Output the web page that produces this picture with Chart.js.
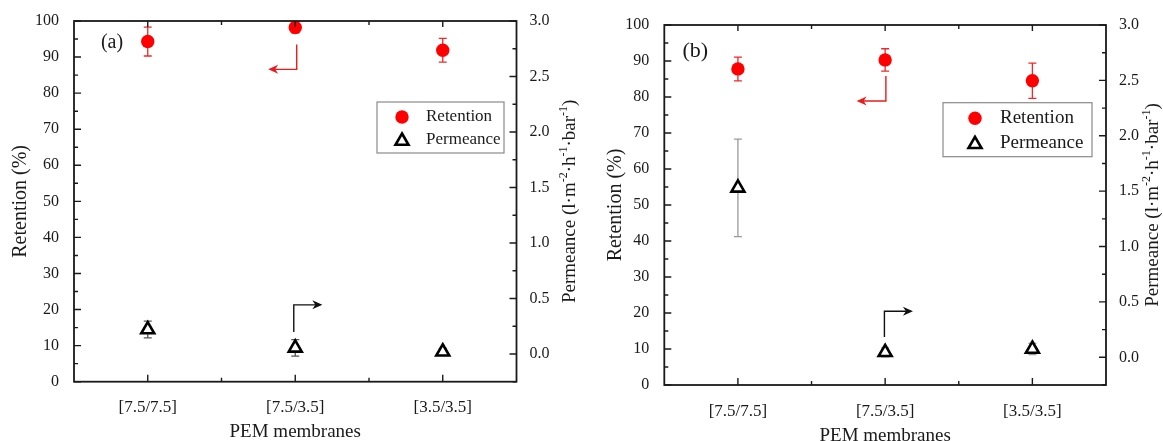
<!DOCTYPE html>
<html>
<head>
<meta charset="utf-8">
<script src="https://cdn.jsdelivr.net/npm/chart.js@4.4.0/dist/chart.umd.min.js"></script>
<style>
body { margin: 0; background: #fff; width: 1163px; height: 441px; overflow: hidden; position: relative; }
.panel { position: absolute; top: 0; height: 441px; }
#wrapA { left: 0; width: 580px; }
#wrapB { left: 580px; width: 583px; }
</style>
</head>
<body>
<div class="panel" id="wrapA"><canvas id="chartA"></canvas></div>
<div class="panel" id="wrapB"><canvas id="chartB"></canvas></div>
<script>
var categories = ['[7.5/7.5]', '[7.5/3.5]', '[3.5/3.5]'];
var retentionTicks = [0, 10, 20, 30, 40, 50, 60, 70, 80, 90, 100];
var permeanceTicks = [0, 0.5, 1.0, 1.5, 2.0, 2.5, 3.0];

// panel (a)
var retentionA = [94.3, 98.2, 91.9];
var retentionErrA = [4.0, 1.5, 3.3];
var permeanceA = [0.22, 0.055, 0.02];
var permeanceErrA = [0.075, 0.075, 0.03];

// panel (b)
var retentionB = [87.8, 90.3, 84.5];
var retentionErrB = [3.3, 3.1, 4.9];
var permeanceB = [1.53, 0.045, 0.075];
var permeanceErrB = [0.44, 0.04, 0.05];

var serif = "'Liberation Serif', 'Times New Roman', serif";
var inkColor = '#1a1a1a';

function arrowLine(ctx, pts, color) {
    ctx.save();
    ctx.strokeStyle = color;
    ctx.fillStyle = color;
    ctx.lineWidth = 1.4;
    ctx.beginPath();
    ctx.moveTo(pts[0][0], pts[0][1]);
    for (var i = 1; i < pts.length; i++) ctx.lineTo(pts[i][0], pts[i][1]);
    ctx.stroke();
    var a = pts[pts.length - 2], b = pts[pts.length - 1];
    var ang = Math.atan2(b[1] - a[1], b[0] - a[0]);
    ctx.translate(b[0], b[1]);
    ctx.rotate(ang);
    ctx.beginPath();
    ctx.moveTo(2, 0);
    ctx.lineTo(-8, -4.5);
    ctx.lineTo(-5, 0);
    ctx.lineTo(-8, 4.5);
    ctx.closePath();
    ctx.fill();
    ctx.restore();
}

function drawTriangle(ctx, x, y, r) {
    ctx.beginPath();
    ctx.moveTo(x, y - r);
    ctx.lineTo(x + r * Math.sin(Math.PI * 2 / 3), y - r * Math.cos(Math.PI * 2 / 3));
    ctx.lineTo(x + r * Math.sin(Math.PI * 4 / 3), y - r * Math.cos(Math.PI * 4 / 3));
    ctx.closePath();
}

var panelPlugin = {
    id: 'panelPlugin',
    beforeDatasetsDraw: function(chart) {
        var ctx = chart.ctx;
        chart.data.datasets.forEach(function(ds, di) {
            var meta = chart.getDatasetMeta(di);
            var sc = chart.scales[ds.yAxisID];
            ctx.save();
            ctx.strokeStyle = ds.errorColor;
            ctx.lineWidth = 1.3;
            meta.data.forEach(function(pt, i) {
                var v = ds.data[i], e = ds.errors[i];
                var y1 = sc.getPixelForValue(v + e), y2 = sc.getPixelForValue(v - e);
                ctx.beginPath();
                ctx.moveTo(pt.x, y1); ctx.lineTo(pt.x, y2);
                ctx.moveTo(pt.x - 4, y1); ctx.lineTo(pt.x + 4, y1);
                ctx.moveTo(pt.x - 4, y2); ctx.lineTo(pt.x + 4, y2);
                ctx.stroke();
            });
            ctx.restore();
        });
    },
    afterDraw: function(chart) {
        var ctx = chart.ctx, ca = chart.chartArea;
        var p = chart.options.plugins.panelPlugin;
        var xs = chart.scales.x, ys = chart.scales.y, ys1 = chart.scales.y1;
        ctx.save();
        // frame
        ctx.strokeStyle = inkColor;
        ctx.lineWidth = 1.8;
        ctx.strokeRect(ca.left, ca.top, ca.right - ca.left, ca.bottom - ca.top);
        // inward ticks
        ctx.lineWidth = 1.4;
        ctx.beginPath();
        retentionTicks.forEach(function(v, i) {
            var y = ys.getPixelForValue(v);
            ctx.moveTo(ca.left, y); ctx.lineTo(ca.left + 7, y);
            if (i > 0) {
                var ym = ys.getPixelForValue((v + retentionTicks[i - 1]) / 2);
                ctx.moveTo(ca.left, ym); ctx.lineTo(ca.left + 4, ym);
            }
        });
        permeanceTicks.forEach(function(v, i) {
            var y = ys1.getPixelForValue(v);
            ctx.moveTo(ca.right, y); ctx.lineTo(ca.right - 7, y);
            var prev = i > 0 ? permeanceTicks[i - 1] : v - 0.5;
            var ym = ys1.getPixelForValue((v + prev) / 2);
            ctx.moveTo(ca.right, ym); ctx.lineTo(ca.right - 4, ym);
        });
        categories.forEach(function(c, i) {
            var x = xs.getPixelForValue(i);
            ctx.moveTo(x, ca.bottom); ctx.lineTo(x, ca.bottom - 7);
            ctx.moveTo(x, ca.top); ctx.lineTo(x, ca.top + 6);
            if (i > 0) {
                var xm = xs.getPixelForValue(i - 0.5);
                ctx.moveTo(xm, ca.bottom); ctx.lineTo(xm, ca.bottom - 4);
                ctx.moveTo(xm, ca.top); ctx.lineTo(xm, ca.top + 4);
            }
        });
        ctx.stroke();

        // arrows
        p.arrows.forEach(function(ar) {
            var pts = ar.path.map(function(q) { return [xs.getPixelForValue(q[0]), ys.getPixelForValue(q[1])]; });
            arrowLine(ctx, pts, ar.color);
        });

        // panel label
        ctx.fillStyle = inkColor;
        ctx.font = p.labelSize + 'px ' + serif;
        ctx.textAlign = 'center';
        ctx.textBaseline = 'middle';
        ctx.fillText(p.label, ca.left + p.labelDx, ca.top + p.labelDy);

        // legend
        var lg = p.legend;
        var bx = ca.left + lg.left, by = ca.top + lg.top;
        ctx.strokeStyle = '#8a8a8a';
        ctx.lineWidth = 1.2;
        ctx.strokeRect(bx, by, lg.width, lg.height);
        var dsR = chart.data.datasets[0], dsP = chart.data.datasets[1];
        ctx.fillStyle = dsR.pointBackgroundColor;
        ctx.beginPath();
        ctx.arc(bx + lg.markerX, by + lg.row1, dsR.pointRadius, 0, Math.PI * 2);
        ctx.fill();
        drawTriangle(ctx, bx + lg.markerX, by + lg.row2 + 1, dsP.pointRadius);
        ctx.fillStyle = dsP.pointBackgroundColor;
        ctx.fill();
        ctx.strokeStyle = dsP.pointBorderColor;
        ctx.lineWidth = dsP.pointBorderWidth;
        ctx.stroke();
        ctx.fillStyle = inkColor;
        ctx.font = lg.font + 'px ' + serif;
        ctx.textAlign = 'left';
        ctx.fillText(dsR.label, bx + lg.textX, by + lg.row1);
        ctx.fillText(dsP.label, bx + lg.textX, by + lg.row2);

        // axis titles
        var midY = (ca.top + ca.bottom) / 2;
        ctx.font = '20px ' + serif;
        ctx.textAlign = 'center';
        ctx.save();
        ctx.translate(ca.left - p.leftTitleGap, midY);
        ctx.rotate(-Math.PI / 2);
        ctx.fillText('Retention (%)', 0, 0);
        ctx.restore();

        ctx.font = '19px ' + serif;
        ctx.fillText('PEM membranes', (ca.left + ca.right) / 2, ca.bottom + p.xTitleGap);

        // right title with superscripts, reading bottom to top
        var parts = [['Permeance (l\u00b7m', 0], ['-2', 1], ['\u00b7h', 0], ['-1', 1], ['\u00b7bar', 0], ['-1', 1], [')', 0]];
        var big = '19px ' + serif, small = '12px ' + serif;
        var total = 0;
        parts.forEach(function(q) { ctx.font = q[1] ? small : big; total += ctx.measureText(q[0]).width; });
        ctx.save();
        ctx.translate(ca.right + p.rightTitleGap, midY);
        ctx.rotate(-Math.PI / 2);
        ctx.textAlign = 'left';
        var cx = -total / 2;
        parts.forEach(function(q) {
            ctx.font = q[1] ? small : big;
            ctx.fillText(q[0], cx, q[1] ? -6 : 0);
            cx += ctx.measureText(q[0]).width;
        });
        ctx.restore();
        ctx.restore();
    }
};

function buildChart(id, p) {
    return new Chart(document.getElementById(id), {
        type: 'line',
        data: {
            labels: categories,
            datasets: [{
                label: 'Retention',
                data: p.retention,
                errors: p.retentionErr,
                errorColor: '#f02828',
                yAxisID: 'y',
                showLine: false,
                clip: false,
                pointStyle: 'circle',
                pointRadius: 6.7,
                pointBackgroundColor: '#ff0000',
                pointBorderColor: '#ff0000',
                pointBorderWidth: 0
            }, {
                label: 'Permeance',
                data: p.permeance,
                errors: p.permeanceErr,
                errorColor: p.permErrColor,
                yAxisID: 'y1',
                showLine: false,
                clip: false,
                pointStyle: 'triangle',
                pointRadius: 7.5,
                pointBackgroundColor: '#ffffff',
                pointBorderColor: '#000000',
                pointBorderWidth: 2.6
            }]
        },
        options: {
            responsive: true,
            maintainAspectRatio: false,
            animation: false,
            events: [],
            layout: { padding: { top: p.top, left: 0, right: 0, bottom: 0 } },
            plugins: {
                legend: { display: false },
                tooltip: { enabled: false },
                panelPlugin: p
            },
            scales: {
                x: {
                    type: 'category',
                    offset: true,
                    grid: { display: false },
                    border: { display: false },
                    ticks: { color: inkColor, font: { family: serif, size: 17 }, padding: 8, maxRotation: 0 },
                    afterFit: function(s) { s.height = p.xHeight; }
                },
                y: {
                    position: 'left',
                    min: 0,
                    max: 100,
                    grid: { display: false },
                    border: { display: false },
                    afterBuildTicks: function(s) { s.ticks = retentionTicks.map(function(v) { return { value: v }; }); },
                    ticks: { color: inkColor, font: { family: serif, size: 16 }, padding: 7 },
                    afterFit: function(s) { s.width = p.leftWidth; }
                },
                y1: {
                    position: 'right',
                    min: -0.25,
                    max: 3.0,
                    grid: { display: false },
                    border: { display: false },
                    afterBuildTicks: function(s) { s.ticks = permeanceTicks.map(function(v) { return { value: v }; }); },
                    ticks: {
                        color: inkColor, font: { family: serif, size: 16 }, padding: 5,
                        callback: function(v) { return Number(v).toFixed(1); }
                    },
                    afterFit: function(s) { s.width = p.rightWidth; }
                }
            }
        },
        plugins: [panelPlugin]
    });
}

buildChart('chartA', {
    retention: retentionA, retentionErr: retentionErrA,
    permeance: permeanceA, permeanceErr: permeanceErrA, permErrColor: '#555555',
    top: 21, leftWidth: 74, rightWidth: 63.5, xHeight: 59.3,
    label: '(a)', labelSize: 20, labelDx: 38, labelDy: 21.7,
    leftTitleGap: 53.6, rightTitleGap: 53.5, xTitleGap: 50,
    legend: { left: 303, top: 81, width: 127, height: 51, markerX: 25, textX: 49, row1: 15, row2: 38, font: 17 },
    arrows: [
        { color: '#e81c1c', path: [[1.01, 93.5], [1.01, 86.6], [0.83, 86.6]] },
        { color: '#111111', path: [[0.99, 13.8], [0.99, 21.3], [1.17, 21.3]] }
    ]
});

buildChart('chartB', {
    retention: retentionB, retentionErr: retentionErrB,
    permeance: permeanceB, permeanceErr: permeanceErrB, permErrColor: '#9a9a9a',
    top: 25, leftWidth: 84.3, rightWidth: 57, xHeight: 56,
    label: '(b)', labelSize: 22, labelDx: 31, labelDy: 26.7,
    leftTitleGap: 49, rightTitleGap: 47, xTitleGap: 51,
    legend: { left: 278.7, top: 77.7, width: 149, height: 54, markerX: 32, textX: 57, row1: 15.6, row2: 40.6, font: 19 },
    arrows: [
        { color: '#e81c1c', path: [[1.005, 85.8], [1.005, 78.9], [0.82, 78.9]] },
        { color: '#111111', path: [[0.995, 13.3], [0.995, 20.5], [1.175, 20.5]] }
    ]
});
</script>
</body>
</html>
